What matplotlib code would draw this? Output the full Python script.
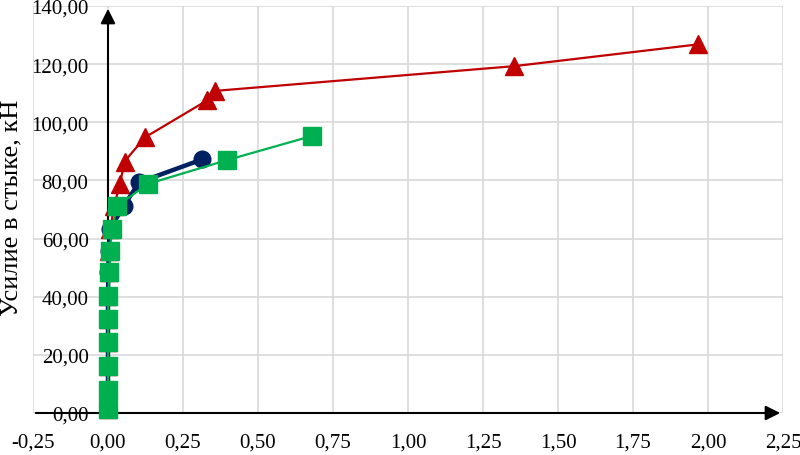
import numpy as np
import matplotlib
matplotlib.use("Agg")
import matplotlib.pyplot as plt

# displacement in joint, mm (x) vs force, kN (y)
red_x = [0.0, 0.0, 0.0, 0.0, 0.0, 0.0, 0.002, 0.004, 0.008, 0.02, 0.04, 0.055, 0.123, 0.33, 0.357, 1.353, 1.967]
red_y = [1.5, 8.0, 16.2, 24.4, 32.3, 40.3, 48.5, 55.7, 63.3, 71.2, 78.8, 86.5, 94.8, 107.5, 110.8, 119.3, 126.8]

blue_x = [0.0, 0.0, 0.0, 0.0, 0.0, 0.0, 0.001, 0.003, 0.006, 0.053, 0.103, 0.313]
blue_y = [1.5, 8.0, 16.2, 24.4, 32.3, 40.3, 48.5, 55.7, 63.3, 71.2, 79.3, 87.2]

green_x = [0.0, 0.0, 0.0, 0.0, 0.0, 0.001, 0.004, 0.007, 0.013, 0.03, 0.133, 0.397, 0.68]
green_y = [1.5, 8.0, 16.2, 24.4, 32.3, 40.3, 48.5, 55.7, 63.3, 71.2, 78.8, 87.0, 95.3]

x_ticks = [-0.25, 0.0, 0.25, 0.5, 0.75, 1.0, 1.25, 1.5, 1.75, 2.0, 2.25]
y_ticks = [0, 20, 40, 60, 80, 100, 120, 140]

plt.rcParams["font.family"] = ["Liberation Serif", "DejaVu Serif"]

fig = plt.figure(figsize=(8, 4.56), dpi=100)
ax = fig.add_axes([33 / 800, 42 / 456, 750 / 800, 407 / 456])
ax.set_xlim(-0.25, 2.25)
ax.set_ylim(0, 140)

for s in ax.spines.values():
    s.set_visible(False)
ax.spines["left"].set_position(("data", 0))

ax.set_xticks(x_ticks)
ax.set_yticks(y_ticks)
ax.set_xticklabels([f"{v:.2f}".replace(".", ",") for v in x_ticks])
ax.set_yticklabels([f"{v:.2f}".replace(".", ",") for v in y_ticks])
ax.tick_params(axis="both", length=0, labelsize=15)
ax.tick_params(axis="x", pad=14)
ax.tick_params(axis="y", pad=14)
ax.grid(True, color="#D9D9D9", lw=1.2)
ax.set_axisbelow(True)

# axes with arrows, Excel style
ax.annotate("", xy=(2.25, 0), xytext=(-0.25, 0),
            arrowprops=dict(arrowstyle="-|>", color="black", lw=1.5, mutation_scale=22),
            annotation_clip=False, zorder=2)
ax.annotate("", xy=(0, 140), xytext=(0, 0),
            arrowprops=dict(arrowstyle="-|>", color="black", lw=1.5, mutation_scale=22),
            annotation_clip=False, zorder=2)

ax.plot(red_x, red_y, color="#C00000", lw=1.6, marker="^", ms=13,
        clip_on=False, zorder=3)
ax.plot(blue_x, blue_y, color="#002060", lw=3.2, marker="o", ms=12,
        clip_on=False, zorder=4)
ax.plot(green_x, green_y, color="#00B050", lw=1.6, marker="s", ms=13.5,
        clip_on=False, zorder=5)

fig.text(11 / 800, 1 - 208 / 456, "Усилие в стыке, кН", rotation=90,
         ha="center", va="center", fontsize=19)

fig.savefig("out.png", dpi=100)
